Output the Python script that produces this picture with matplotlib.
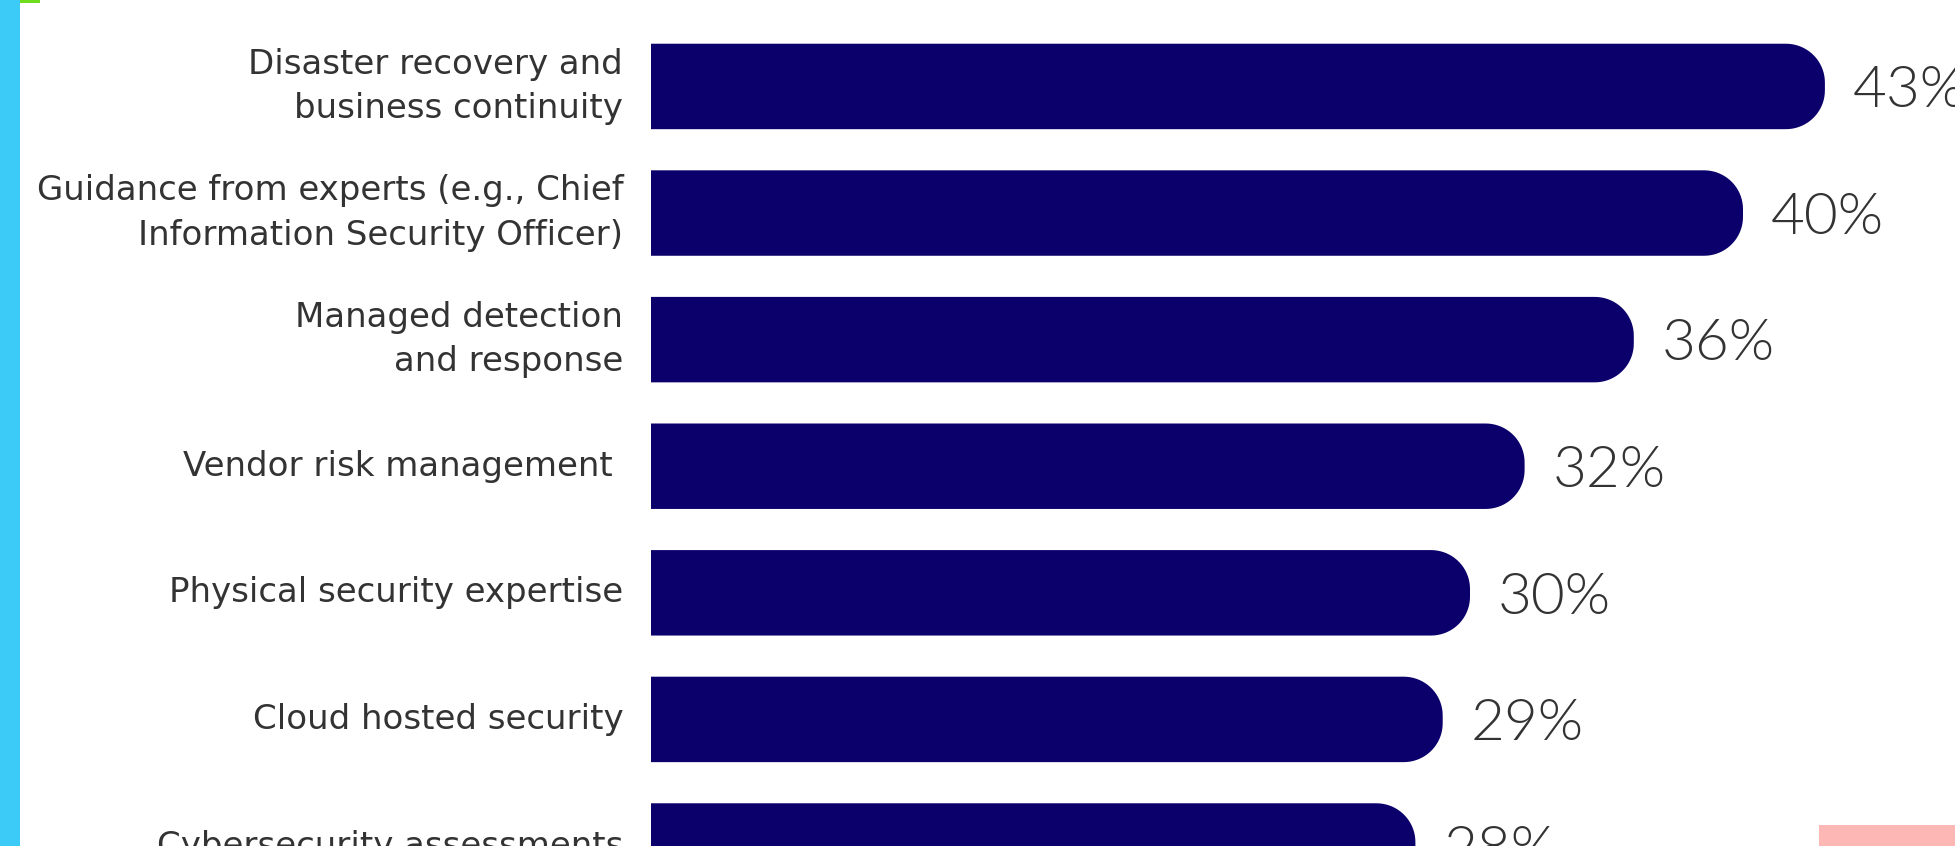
import matplotlib.pyplot as plt
import matplotlib.patches as mpatches
import numpy as np

categories = [
    "Disaster recovery and\nbusiness continuity",
    "Guidance from experts (e.g., Chief\nInformation Security Officer)",
    "Managed detection\nand response",
    "Vendor risk management ",
    "Physical security expertise",
    "Cloud hosted security",
    "Cybersecurity assessments",
]
values = [43, 40, 36, 32, 30, 29, 28]
value_labels = ["43%", "40%", "36%", "32%", "30%", "29%", "28%"]

bar_color = "#0b006b"
text_color = "#333333"

W, H = 1955, 846
fig = plt.figure(figsize=(W / 100, H / 100), dpi=100)
fig.patch.set_facecolor("white")

left_px = 651
px_per_pct = 27.3
y_px = 127.4  # pixels per category step
y0_px = 87    # centre of first bar from top
ax = fig.add_axes([left_px / W, 0, 1 - left_px / W, 1])
ax.set_xlim(0, (W - left_px) / px_per_pct)
ax.set_ylim((H - y0_px) / y_px, -y0_px / y_px)
for s in ax.spines.values():
    s.set_visible(False)
ax.set_xticks([])

bar_h = 86 / y_px
r_px = 39     # corner radius in pixels
rx = r_px / px_per_pct
ry = r_px / y_px


def rounded_bar(y, v):
    top, bot = y - bar_h / 2, y + bar_h / 2
    t1 = np.linspace(-np.pi / 2, 0, 20)
    t2 = np.linspace(0, np.pi / 2, 20)
    pts = [(0, top), (v - rx, top)]
    pts += [(v - rx + rx * np.cos(t), top + ry + ry * np.sin(t)) for t in t1]
    pts += [(v - rx + rx * np.cos(t), bot - ry + ry * np.sin(t)) for t in t2]
    pts += [(0, bot)]
    return mpatches.Polygon(pts, closed=True, facecolor=bar_color, edgecolor="none")


ys = np.arange(len(values))
for y, v, lab in zip(ys, values, value_labels):
    ax.add_patch(rounded_bar(y, v))
    # baseline sits half a cap height below the bar centre
    ax.annotate(lab, (v, y), xytext=(20, -15), textcoords="offset points",
                ha="left", va="baseline", fontsize=42, color="#333333",
                family="Lato", fontweight=300)

ax.set_yticks(ys)
ax.set_yticklabels(categories, fontsize=24.5, color=text_color, family="DejaVu Sans",
                   linespacing=1.45, va="center")
ax.tick_params(axis="y", length=0, pad=20)

# decorative page elements around the crop
fig.patches.append(mpatches.Rectangle((0, 0), 20 / W, 1, transform=fig.transFigure,
                                      facecolor="#3ccaf6", edgecolor="none", zorder=-1))
fig.patches.append(mpatches.Rectangle((20 / W, 1 - 3 / H), 20 / W, 3 / H, transform=fig.transFigure,
                                      facecolor="#6fdc1e", edgecolor="none"))
fig.patches.append(mpatches.Rectangle((1819 / W, 0), 136 / W, 21 / H, transform=fig.transFigure,
                                      facecolor="#fdb8b6", edgecolor="none"))

fig.savefig("out.png", dpi=100)
